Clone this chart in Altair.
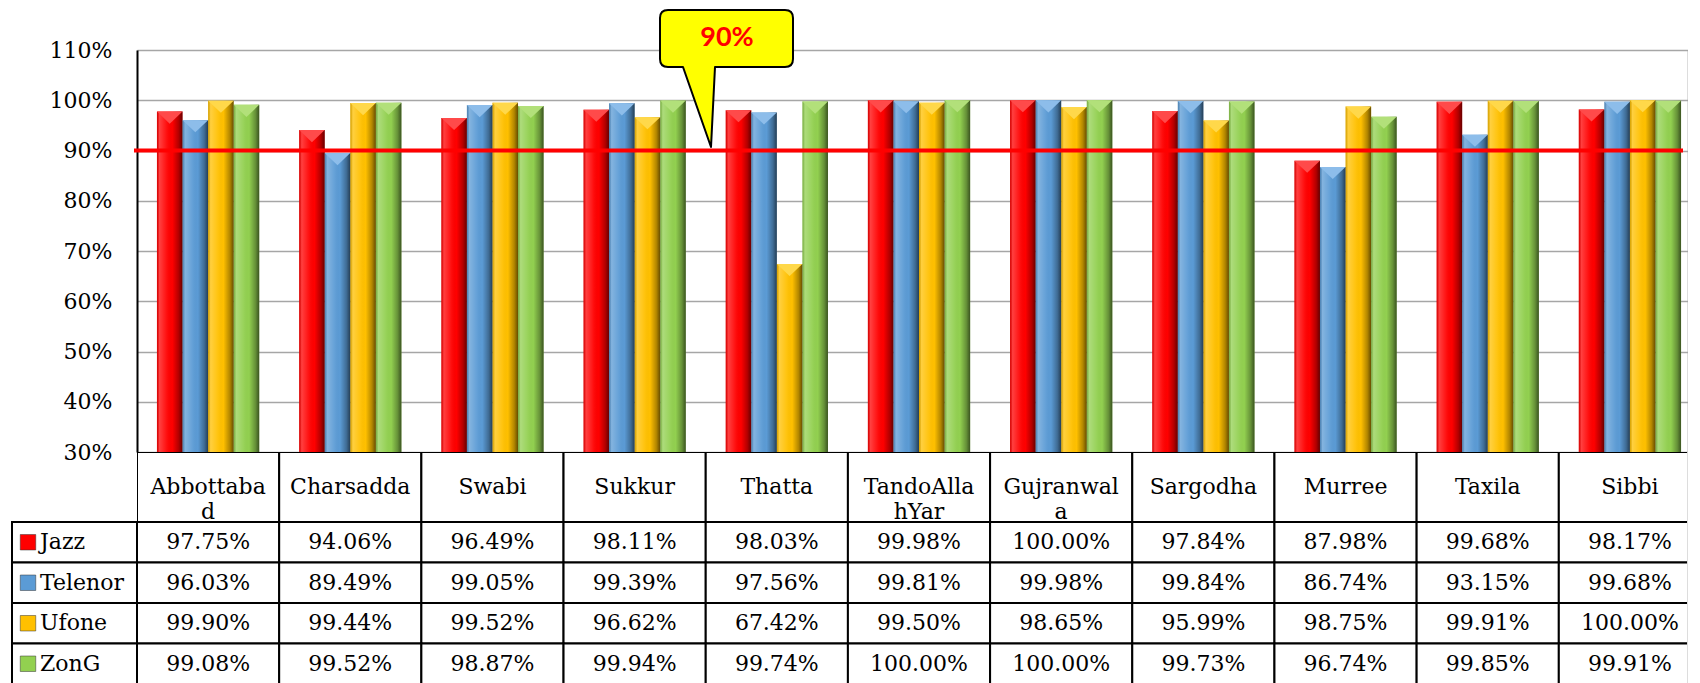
import altair as alt
import pandas as pd

# ---------------- data ----------------
categories = ["Abbottabad", "Charsadda", "Swabi", "Sukkur", "Thatta", "TandoAllahYar",
              "Gujranwala", "Sargodha", "Murree", "Taxila", "Sibbi"]
header_labels = ["Abbottaba\nd", "Charsadda", "Swabi", "Sukkur", "Thatta", "TandoAlla\nhYar",
                 "Gujranwal\na", "Sargodha", "Murree", "Taxila", "Sibbi"]
series = ["Jazz", "Telenor", "Ufone", "ZonG"]
jazz = [97.75, 94.06, 96.49, 98.11, 98.03, 99.98, 100.00, 97.84, 87.98, 99.68, 98.17]
telenor = [96.03, 89.49, 99.05, 99.39, 97.56, 99.81, 99.98, 99.84, 86.74, 93.15, 99.68]
ufone = [99.90, 99.44, 99.52, 96.62, 67.42, 99.50, 98.65, 95.99, 98.75, 99.91, 100.00]
zong = [99.08, 99.52, 98.87, 99.94, 99.74, 100.00, 100.00, 99.73, 96.74, 99.85, 99.91]
target = 90
target_label = "90%"
y_ticks = [30, 40, 50, 60, 70, 80, 90, 100, 110]

colors = ["#FF0000", "#5B9BD5", "#FFC000", "#92D050"]
cap_colors = ["#FF4A4A", "#8DBDEA", "#FFD84A", "#B2E07A"]

values = {"Jazz": jazz, "Telenor": telenor, "Ufone": ufone, "ZonG": zong}
rows = []
for s in series:
    for c, v in zip(categories, values[s]):
        rows.append({"city": c, "series": s, "value": v, "label": f"{v:.2f}%"})
df = pd.DataFrame(rows)
hdr = pd.DataFrame({"city": categories, "label": header_labels})
leg = pd.DataFrame({"series": series})

# ---------------- layout ----------------
W = 1550          # visible panel width (page is 1700 wide)
XR = 1564         # full column extent (last column runs off the page edge)
H = 402
HDR_H = 70
BODY_H = 162
FONT = "DejaVu Serif"
FS = 22

xcat = alt.X("city:N", sort=categories,
             scale=alt.Scale(domain=categories, paddingInner=0, paddingOuter=0, range=[0, XR]),
             axis=None)
xoff = alt.XOffset("series:N", sort=series,
                   scale=alt.Scale(domain=series, paddingInner=0, paddingOuter=0.78))
yval = alt.Y("value:Q", scale=alt.Scale(domain=[30, 110], zero=False, nice=False),
             axis=alt.Axis(values=y_ticks, labelExpr="datum.value + '%'", title=None,
                           grid=True, gridColor="#A6A6A6", gridWidth=1.5,
                           domainColor="black", domainWidth=2, ticks=False,
                           labelPadding=25, labelFont=FONT, labelFontSize=FS,
                           labelColor="black"))

base = alt.Chart(df)
bars = base.mark_bar().encode(
    x=xcat, xOffset=xoff, y=yval, y2=alt.datum(30),
    color=alt.Color("series:N", scale=alt.Scale(domain=series, range=colors), legend=None),
)
shade = base.mark_bar(
    color=alt.Gradient(
        gradient="linear", x1=0, x2=1, y1=0, y2=0,
        stops=[
            alt.GradientStop(color="rgba(0,0,0,0.15)", offset=0),
            alt.GradientStop(color="rgba(255,255,255,0.25)", offset=0.1),
            alt.GradientStop(color="rgba(255,255,255,0.05)", offset=0.4),
            alt.GradientStop(color="rgba(0,0,0,0.0)", offset=0.6),
            alt.GradientStop(color="rgba(0,0,0,0.3)", offset=0.85),
            alt.GradientStop(color="rgba(0,0,0,0.6)", offset=1),
        ],
    )
).encode(x=xcat, xOffset=xoff, y=yval, y2=alt.datum(30))
caps = base.mark_point(shape="M -1 0 L 1 0 L 0 0.95 Z", filled=True, opacity=1,
                       size=650, strokeWidth=0).encode(
    x=xcat, xOffset=xoff, y=yval,
    fill=alt.Fill("series:N", scale=alt.Scale(domain=series, range=cap_colors), legend=None),
)

one = pd.DataFrame({"t": [target], "lab": [target_label]})
rule = alt.Chart(one).mark_rule(color="#FF0000", strokeWidth=4, strokeCap="butt").encode(
    y=alt.Y("t:Q"), x=alt.value(-3), x2=alt.value(W - 4)
)
callout_path = ("M -59 -40 L 58 -40 Q 66 -40 66 -32 L 66 9 Q 66 17 58 17 "
                "L -12 17 L -16 97 L -44 17 L -59 17 Q -67 17 -67 9 "
                "L -67 -32 Q -67 -40 -59 -40 Z")
callout = alt.Chart(one).mark_point(shape=callout_path, size=4, filled=True, opacity=1,
                                    fill="#FFFF00", stroke="black", strokeWidth=2,
                                    strokeJoin="round").encode(
    x=alt.value(590), y=alt.value(0)
)
callout_text = alt.Chart(one).mark_text(font="Lato", fontWeight="bold", fontSize=27,
                                        color="#FF0000", baseline="middle").encode(
    x=alt.value(590), y=alt.value(-12), text="lab:N"
)

chart_bars = alt.layer(bars, shade, caps, rule, callout, callout_text).properties(width=W, height=H)

# header row
hdr_rect = alt.Chart(hdr).mark_rect(fill="white", stroke="black", strokeWidth=2, clip=True).encode(x=xcat)
hdr_text = alt.Chart(hdr).mark_text(font=FONT, fontSize=FS, color="black", lineBreak="\n",
                                    baseline="middle", lineHeight=25).encode(
    x=xcat, y=alt.value(HDR_H / 2), text="label:N")
chart_hdr = alt.layer(hdr_rect, hdr_text).properties(width=W, height=HDR_H)

# table body
yscale = alt.Scale(domain=series, paddingInner=0, paddingOuter=0)
yrow = alt.Y("series:N", sort=series, scale=yscale, axis=None)
cell_rect = alt.Chart(df).mark_rect(fill="white", stroke="black", strokeWidth=2, clip=True).encode(
    x=xcat, y=yrow)
cell_text = alt.Chart(df).mark_text(font=FONT, fontSize=FS, color="black", baseline="middle",
                                    clip=True).encode(x=xcat, y=yrow, text="label:N")
leg_rect = alt.Chart(leg).mark_rect(fill="white", stroke="black", strokeWidth=2).encode(
    x=alt.value(-125), x2=alt.value(0), y=yrow)
leg_sym = alt.Chart(leg).mark_point(shape="square", filled=True, opacity=1, size=240,
                                    stroke="#333333", strokeWidth=0.5).encode(
    x=alt.value(-109), y=yrow,
    color=alt.Color("series:N", scale=alt.Scale(domain=series, range=colors), legend=None))
leg_text = alt.Chart(leg).mark_text(font=FONT, fontSize=FS, color="black", align="left",
                                    baseline="middle").encode(
    x=alt.value(-97), y=yrow, text="series:N")
chart_body = alt.layer(cell_rect, cell_text, leg_rect, leg_sym, leg_text
                       ).properties(width=W, height=BODY_H)

chart = alt.vconcat(chart_bars, chart_hdr, chart_body, spacing=0, bounds="flush",
                    padding={"left": 2, "top": 0, "right": 0, "bottom": 0}
                    ).configure_view(stroke=None).configure(background="white")

chart.save("out.html", embed_options={"renderer": "svg", "actions": False})
